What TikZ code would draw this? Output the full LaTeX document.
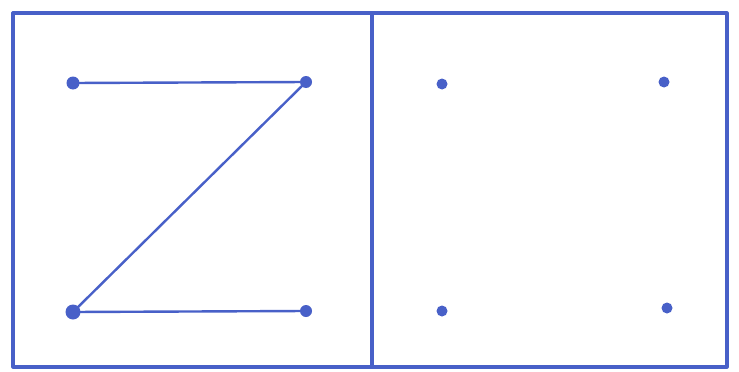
\documentclass[tikz,border=0pt]{standalone}
\definecolor{pen}{RGB}{72,96,200}
\begin{document}
\begin{tikzpicture}[x=1pt,y=-1pt,
  frame/.style={draw=pen,line width=3.2pt,line join=round},
  stroke/.style={draw=pen,line width=2.4pt,line cap=round},
  dot/.style={circle,fill=pen,inner sep=0pt,minimum size=12pt}]
\useasboundingbox (0,0) rectangle (739,372);
\fill[white] (0,0) rectangle (739,372);
\draw[frame] (13,13) rectangle (727,367);
\coordinate (mt) at (372,13);
\coordinate (mb) at (372,367);
\draw[frame] (mt) -- (mb);
\node[dot,minimum size=13pt] (a) at (73,83) {};
\node[dot] (b) at (306,82) {};
\node[dot,minimum size=15pt] (c) at (73,312) {};
\node[dot] (d) at (306,311) {};
\node[dot,minimum size=11pt] (e) at (442,84) {};
\node[dot,minimum size=11pt] (f) at (664,82) {};
\node[dot,minimum size=11pt] (g) at (442,311) {};
\node[dot,minimum size=11pt] (h) at (667,308) {};
\draw[stroke] (a.center) -- (b.center) -- (c.center) -- (d.center);
\end{tikzpicture}
\end{document}
